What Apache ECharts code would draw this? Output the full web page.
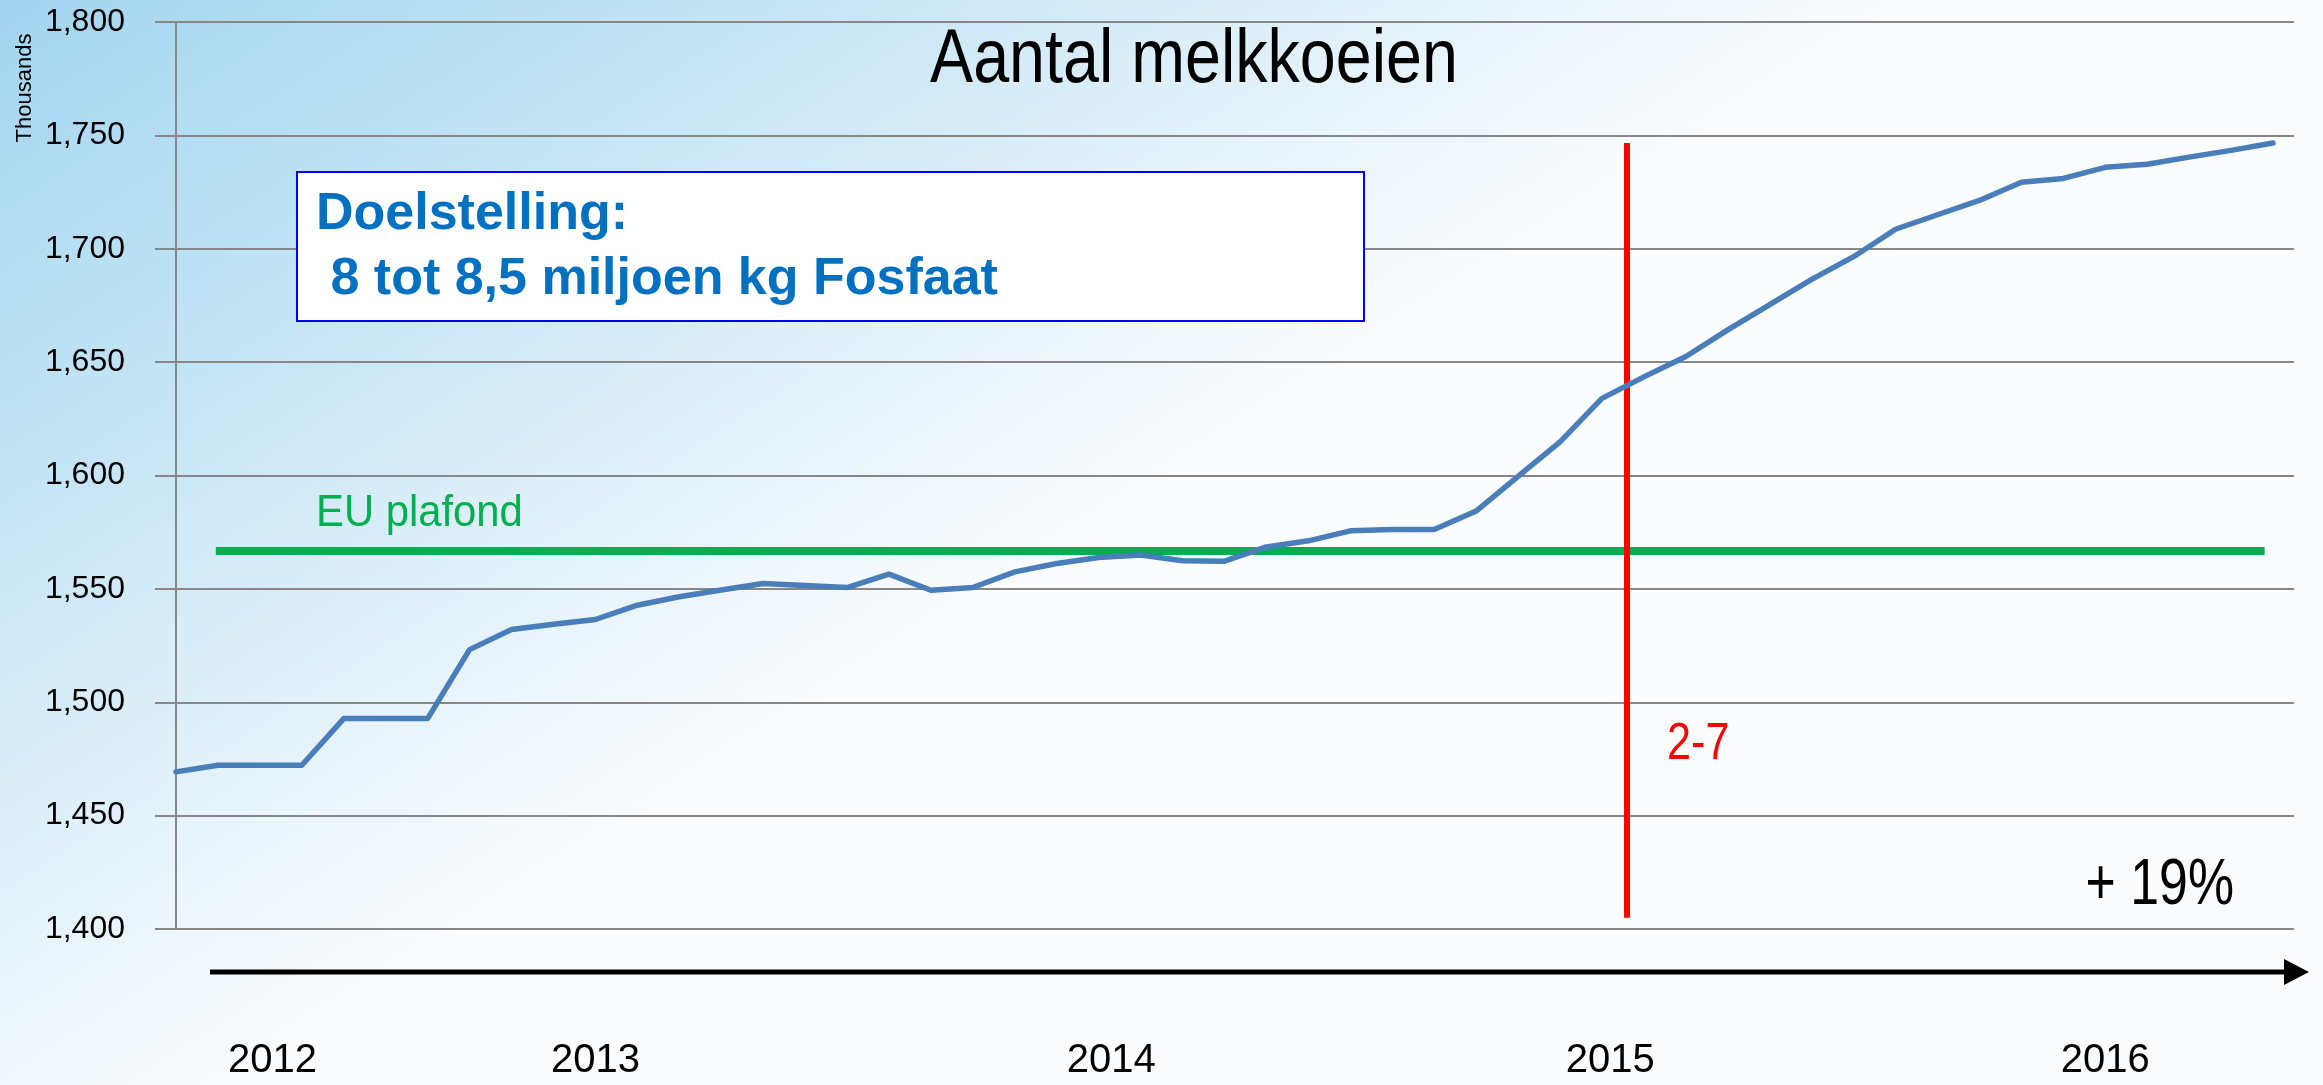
<!DOCTYPE html>
<html>
<head>
<meta charset="utf-8">
<script src="https://cdn.jsdelivr.net/npm/echarts@6/dist/echarts.min.js"></script>
<style>
  html, body { margin: 0; padding: 0; }
  #main { width: 2323px; height: 1085px; }
</style>
</head>
<body>
<div id="main"></div>
<script>
// aantal melkkoeien (x 1000), maandelijks
const aantal = [1469.3, 1472.2, 1472.2, 1472.2, 1492.8, 1492.8, 1492.8, 1523.2, 1532.1, 1534.4,
  1536.5, 1542.8, 1546.5, 1549.5, 1552.4, 1551.5, 1550.6, 1556.5, 1549.4, 1550.6,
  1557.5, 1561.2, 1563.8, 1564.9, 1562.4, 1562.2, 1568.5, 1571.2, 1575.6, 1576.2,
  1576.2, 1584.3, 1599.6, 1614.8, 1634, 1643.5, 1652.5, 1664.2, 1675.4, 1686.5,
  1696.5, 1708.6, 1715, 1721.3, 1729.3, 1731, 1735.9, 1737.3, 1740.4, 1743.4, 1746.6]
// jaartallen onder de pijl en hun plek (maand-index)
const jaren = ['2012', '2013', '2014', '2015', '2016']
const jaarPos = [2.3, 10, 22.3, 34.2, 46]
// EU plafond en 2 juli lijn
const euPlafond = 1567
const euVan = 0.95, euTot = 49.8
const rodeLijnX = 34.6
const rodeLijnY = [1405, 1746.6]

const font = "'Liberation Sans', Arial, sans-serif"

let myChart = echarts.init(document.getElementById('main'))

let option = {
  animation: false,
  grid: { left: 155, right: 29, top: 22, bottom: 156 },
  xAxis: {
    type: 'value',
    min: -0.5,
    max: 50.5,
    axisLine: { show: false },
    axisTick: { show: false },
    splitLine: { show: false },
    axisLabel: {
      customValues: jaarPos,
      margin: 112,
      fontFamily: font,
      fontSize: 40,
      color: '#000',
      formatter: v => {
        let i = jaarPos.indexOf(v)
        return i >= 0 ? jaren[i] : ''
      }
    }
  },
  yAxis: {
    type: 'value',
    min: 1400,
    max: 1800,
    interval: 50,
    axisLine: { show: true, lineStyle: { color: '#878787', width: 2 } },
    axisTick: { show: true, length: 10, lineStyle: { color: '#878787', width: 2 } },
    splitLine: { lineStyle: { color: '#878787', width: 2 } },
    axisLabel: {
      margin: 30,
      fontFamily: font,
      fontSize: 32,
      color: '#000',
      formatter: v => v.toLocaleString('en-US')
    }
  },
  series: [{
    type: 'line',
    data: aantal.map((v, i) => [i, v]),
    showSymbol: false,
    lineStyle: { color: '#4A7EBB', width: 5.5, cap: 'round', join: 'round' },
    z: 5,
    markLine: {
      silent: true,
      symbol: 'none',
      label: { show: false },
      data: [
        [{ coord: [euVan, euPlafond], lineStyle: { color: '#00B050', width: 8, type: 'solid' } },
         { coord: [euTot, euPlafond] }],
        [{ coord: [rodeLijnX, rodeLijnY[0]], lineStyle: { color: '#FF0000', width: 6, type: 'solid' } },
         { coord: [rodeLijnX, rodeLijnY[1]] }]
      ]
    }
  }],
  graphic: [
    {
      type: 'rect', z: -100, silent: true,
      shape: { x: 0, y: 0, width: 2323, height: 1085 },
      style: {
        fill: new echarts.graphic.LinearGradient(0, 0, 0.24, 0.8, [
          { offset: 0, color: '#a3d5ef' },
          { offset: 0.45, color: '#c8e6f6' },
          { offset: 0.75, color: '#e4f2fa' },
          { offset: 1, color: '#fafcfe' }
        ])
      }
    },
    {
      type: 'text', z: 100, x: 1194, y: 61,
      scaleX: 0.85,
      style: { text: 'Aantal melkkoeien', fontFamily: font, fontSize: 76, fill: '#000', align: 'center', verticalAlign: 'middle' }
    },
    {
      type: 'text', z: 100, x: 25, y: 88, rotation: Math.PI / 2,
      style: { text: 'Thousands', fontFamily: font, fontSize: 22, fill: '#000', align: 'center', verticalAlign: 'middle' }
    },
    {
      type: 'rect', z: 100,
      shape: { x: 297, y: 172, width: 1067, height: 149 },
      style: { fill: '#fff', stroke: '#0000FF', lineWidth: 2 }
    },
    {
      type: 'text', z: 101, x: 316, y: 215,
      style: { text: 'Doelstelling:', fontFamily: font, fontWeight: 'bold', fontSize: 52, fill: '#0070C0', verticalAlign: 'middle' }
    },
    {
      type: 'text', z: 101, x: 316, y: 280,
      style: { text: ' 8 tot 8,5 miljoen kg Fosfaat', fontFamily: font, fontWeight: 'bold', fontSize: 52, fill: '#0070C0', verticalAlign: 'middle' }
    },
    {
      type: 'text', z: 100, x: 316, y: 514, scaleX: 0.95,
      style: { text: 'EU plafond', fontFamily: font, fontSize: 44, fill: '#00B050', verticalAlign: 'middle' }
    },
    {
      type: 'text', z: 100, x: 1667, y: 745, scaleX: 0.83,
      style: { text: '2-7', fontFamily: font, fontSize: 52, fill: '#FF0000', verticalAlign: 'middle' }
    },
    {
      type: 'text', z: 100, x: 2234, y: 886, scaleX: 0.81,
      style: { text: '+ 19%', fontFamily: font, fontSize: 64, fill: '#000', align: 'right', verticalAlign: 'middle' }
    },
    // pijl onder de grafiek
    {
      type: 'line', z: 100,
      shape: { x1: 210, y1: 972, x2: 2288, y2: 972 },
      style: { stroke: '#000', lineWidth: 5 }
    },
    {
      type: 'polygon', z: 100,
      shape: { points: [[2284, 959], [2309, 972], [2284, 985]] },
      style: { fill: '#000' }
    }
  ]
}

myChart.setOption(option)
</script>
</body>
</html>
